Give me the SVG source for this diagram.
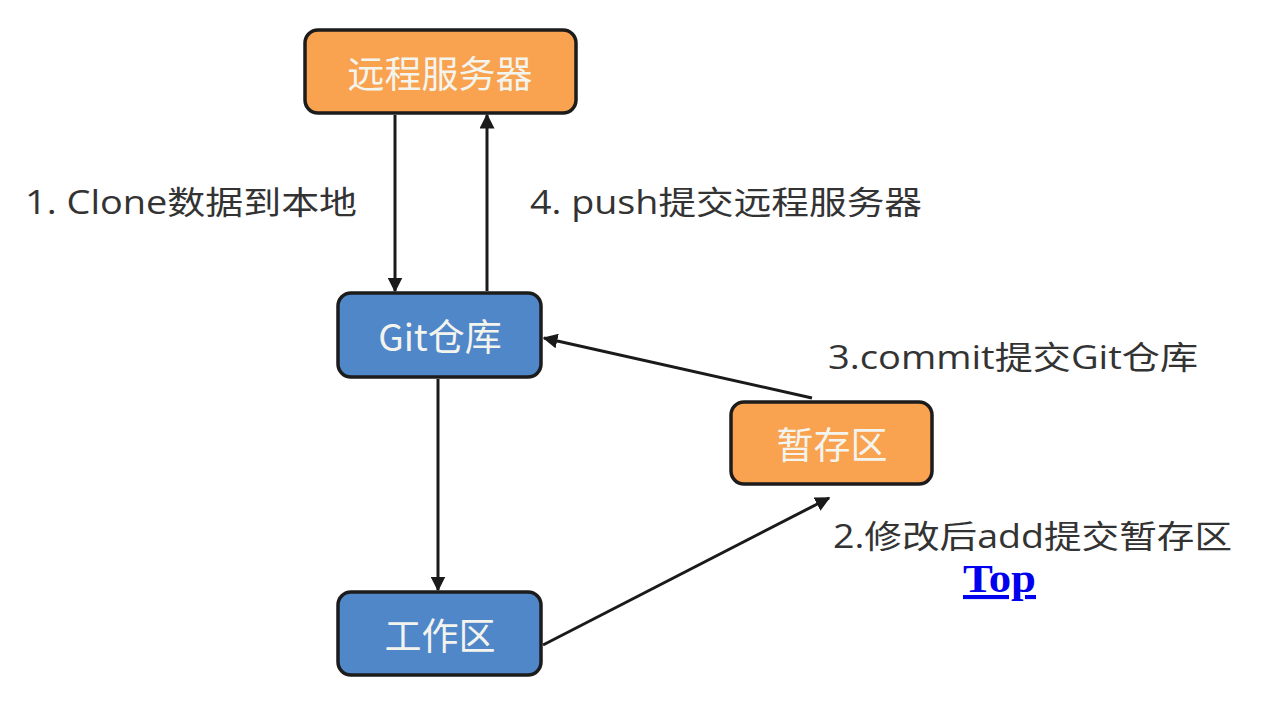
<svg xmlns="http://www.w3.org/2000/svg" width="1275" height="714" viewBox="0 0 1275 714">
<defs>
<style>
.box{stroke:#1c1c1c;stroke-width:3.5}
.orange{fill:#F9A24F}
.blue{fill:#4F87C9}
.nt{font-family:"Noto Sans CJK SC","Noto Sans",sans-serif;font-size:37px;fill:#F4F4EE;text-anchor:middle;dominant-baseline:central}
.lb{font-family:"Open Sans","Noto Sans CJK SC",sans-serif;font-size:32px;fill:#333333}
.ln{stroke:#1a1a1a;stroke-width:3;fill:none;marker-end:url(#ah)}
</style>
<marker id="ah" viewBox="0 0 10 10" refX="9" refY="5" markerWidth="5" markerHeight="5" orient="auto" markerUnits="strokeWidth">
<path d="M0,0 L10,5 L0,10 z" fill="#1a1a1a"/>
</marker>
</defs>
<rect width="1275" height="714" fill="#ffffff"/>
<g id="connectors">
<line class="ln" x1="395" y1="115" x2="395" y2="291"/>
<line class="ln" x1="487" y1="291" x2="487" y2="115"/>
<line class="ln" x1="812" y1="398" x2="544" y2="338"/>
<line class="ln" x1="438" y1="379" x2="438" y2="590"/>
<line class="ln" x1="543" y1="645" x2="829" y2="498"/>
</g>
<g id="remote">
<rect class="box orange" x="305" y="30" width="271" height="83" rx="13"/>
<text class="nt" x="440" y="72">远程服务器</text>
</g>
<g id="repo">
<rect class="box blue" x="338" y="293" width="203" height="84" rx="13"/>
<text class="nt" x="440" y="335">Git仓库</text>
</g>
<g id="stage">
<rect class="box orange" x="731" y="402" width="201" height="82" rx="13"/>
<text class="nt" x="832" y="443">暂存区</text>
</g>
<g id="work">
<rect class="box blue" x="338" y="592" width="203" height="83" rx="13"/>
<text class="nt" x="440" y="634">工作区</text>
</g>
<g id="labels">
<text class="lb" x="25" y="214" textLength="332" lengthAdjust="spacingAndGlyphs">1. Clone数据到本地</text>
<text class="lb" x="530" y="214" textLength="392" lengthAdjust="spacingAndGlyphs">4. push提交远程服务器</text>
<text class="lb" x="828" y="369" textLength="370" lengthAdjust="spacingAndGlyphs">3.commit提交Git仓库</text>
<text class="lb" x="833" y="548" textLength="399" lengthAdjust="spacingAndGlyphs">2.修改后add提交暂存区</text>
</g>
<g id="top">
<text x="963" y="592" font-family="Liberation Serif,serif" font-weight="bold" font-size="41" fill="#0000EE" text-decoration="underline" textLength="73" lengthAdjust="spacingAndGlyphs">Top</text>
</g>
</svg>
